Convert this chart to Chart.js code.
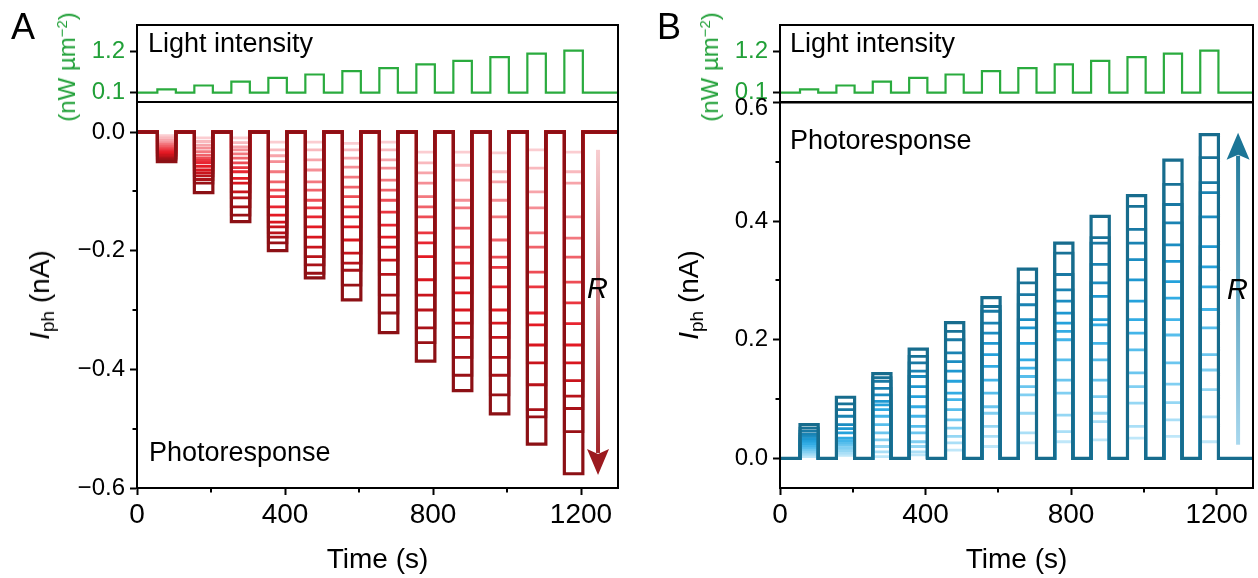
<!DOCTYPE html>
<html><head><meta charset="utf-8">
<script src="https://cdn.jsdelivr.net/npm/chart.js@4.4.1/dist/chart.umd.min.js"></script>
<style>
html,body{margin:0;padding:0;background:#fff;width:1258px;height:578px;overflow:hidden;font-family:"Liberation Sans",Arial,Helvetica,sans-serif;}
canvas{position:absolute;left:0;top:0;}
.t{position:absolute;white-space:nowrap;color:#000;line-height:1;}
.rot{transform:translate(-50%,-50%) rotate(-90deg);}
sub{font-size:0.68em;vertical-align:-0.28em;line-height:0;}
sup{font-size:0.62em;vertical-align:0.55em;line-height:0;}
</style></head><body>
<canvas id="aTop" width="1258" height="578"></canvas>
<canvas id="aBot" width="1258" height="578"></canvas>
<canvas id="bTop" width="1258" height="578"></canvas>
<canvas id="bBot" width="1258" height="578"></canvas>

<div class="t" style="left:11px;top:9px;font-size:36px;">A</div>
<div class="t" style="left:657px;top:9px;font-size:36px;">B</div>
<div class="t" style="left:148px;top:30px;font-size:27px;">Light intensity</div>
<div class="t" style="left:790px;top:30px;font-size:27px;">Light intensity</div>
<div class="t" style="left:149px;top:439px;font-size:27px;">Photoresponse</div>
<div class="t" style="left:790px;top:127px;font-size:27px;">Photoresponse</div>
<div class="t" style="left:587px;top:274px;font-size:29px;font-style:italic;">R</div>
<div class="t" style="left:1227px;top:275px;font-size:29px;font-style:italic;">R</div>
<div class="t rot" style="left:40px;top:295px;font-size:28px;"><i>I</i><sub>ph</sub> (nA)</div>
<div class="t rot" style="left:689px;top:295px;font-size:28px;"><i>I</i><sub>ph</sub> (nA)</div>
<div class="t rot" style="left:67px;top:67px;font-size:24px;color:#21a038;">(nW µm<sup>−2</sup>)</div>
<div class="t rot" style="left:710px;top:67px;font-size:24px;color:#21a038;">(nW µm<sup>−2</sup>)</div>

<script>
// ---------------- data ----------------
const TIME_ON  = [55, 155, 255, 355, 455, 555, 655, 755, 855, 955, 1055, 1155];
const TIME_OFF = [105, 205, 305, 405, 505, 605, 705, 805, 905, 1005, 1105, 1205];
const TIME_START = 0;
const TIME_END = 1300;

const LIGHT_BASE = 0.1;
const LIGHT_LEVELS = [0.19, 0.29, 0.39, 0.49, 0.58, 0.67, 0.75, 0.85, 0.94, 1.04, 1.13, 1.21];

// Panel A photocurrent plateaus (nA), one row per light pulse, lightest -> darkest trace
const A_LEVELS = [
  [-0.006,-0.010,-0.014,-0.018,-0.021,-0.024,-0.027,-0.030,-0.033,-0.035,-0.038,-0.040,-0.043,-0.045,-0.047,-0.050],
  [-0.010,-0.016,-0.022,-0.027,-0.033,-0.039,-0.044,-0.048,-0.052,-0.058,-0.064,-0.069,-0.074,-0.080,-0.086,-0.102],
  [-0.010,-0.018,-0.025,-0.030,-0.037,-0.044,-0.052,-0.060,-0.067,-0.078,-0.086,-0.101,-0.111,-0.126,-0.140,-0.151],
  [-0.017,-0.030,-0.040,-0.050,-0.067,-0.084,-0.098,-0.109,-0.126,-0.140,-0.152,-0.160,-0.170,-0.177,-0.187,-0.200],
  [-0.017,-0.030,-0.047,-0.064,-0.084,-0.098,-0.115,-0.128,-0.143,-0.160,-0.177,-0.194,-0.210,-0.224,-0.238,-0.246],
  [-0.019,-0.030,-0.044,-0.059,-0.076,-0.093,-0.109,-0.126,-0.143,-0.160,-0.182,-0.204,-0.221,-0.233,-0.258,-0.283],
  [-0.017,-0.030,-0.047,-0.061,-0.081,-0.098,-0.115,-0.135,-0.157,-0.177,-0.194,-0.216,-0.240,-0.275,-0.305,-0.338],
  [-0.034,-0.052,-0.069,-0.086,-0.109,-0.126,-0.143,-0.170,-0.187,-0.210,-0.249,-0.275,-0.300,-0.330,-0.355,-0.386],
  [-0.034,-0.056,-0.081,-0.115,-0.128,-0.162,-0.194,-0.221,-0.246,-0.271,-0.300,-0.322,-0.346,-0.380,-0.410,-0.436],
  [-0.035,-0.067,-0.084,-0.115,-0.143,-0.182,-0.211,-0.228,-0.261,-0.300,-0.322,-0.346,-0.380,-0.410,-0.443,-0.475],
  [-0.030,-0.061,-0.101,-0.128,-0.170,-0.194,-0.236,-0.261,-0.305,-0.325,-0.359,-0.389,-0.426,-0.468,-0.480,-0.526],
  [-0.034,-0.067,-0.086,-0.143,-0.179,-0.211,-0.253,-0.288,-0.323,-0.359,-0.389,-0.419,-0.445,-0.466,-0.505,-0.576]
];

// Panel B photocurrent plateaus (nA), one row per light pulse, lightest -> darkest trace
const B_LEVELS = [
  [0.003,0.006,0.009,0.012,0.015,0.018,0.021,0.025,0.029,0.033,0.037,0.041,0.046,0.051,0.057],
  [0.005,0.009,0.013,0.017,0.022,0.026,0.030,0.034,0.043,0.050,0.057,0.071,0.082,0.092,0.103],
  [0.003,0.011,0.020,0.031,0.043,0.057,0.071,0.082,0.090,0.096,0.107,0.118,0.130,0.136,0.143],
  [0.006,0.011,0.020,0.028,0.043,0.054,0.071,0.087,0.104,0.121,0.138,0.147,0.161,0.172,0.184],
  [0.014,0.026,0.037,0.051,0.065,0.082,0.099,0.110,0.130,0.147,0.163,0.178,0.200,0.214,0.229],
  [0.020,0.037,0.054,0.076,0.087,0.110,0.132,0.155,0.175,0.194,0.211,0.228,0.248,0.256,0.271],
  [0.026,0.043,0.076,0.107,0.121,0.138,0.152,0.166,0.194,0.220,0.234,0.259,0.276,0.296,0.319],
  [0.028,0.045,0.073,0.110,0.132,0.166,0.200,0.214,0.228,0.245,0.265,0.284,0.310,0.346,0.363],
  [0.031,0.062,0.076,0.104,0.132,0.166,0.194,0.225,0.234,0.273,0.296,0.327,0.363,0.372,0.408],
  [0.034,0.054,0.093,0.121,0.144,0.183,0.211,0.234,0.265,0.301,0.335,0.363,0.386,0.425,0.443],
  [0.037,0.065,0.094,0.125,0.161,0.208,0.234,0.270,0.298,0.332,0.360,0.397,0.428,0.462,0.503],
  [0.028,0.070,0.116,0.149,0.175,0.220,0.251,0.289,0.323,0.357,0.407,0.448,0.465,0.507,0.546]
];

// ticks
const X_TICKS = [0, 400, 800, 1200];
const X_TICK_LABELS = ['0', '400', '800', '1200'];
const X_MINOR = [200, 600, 1000];
const LIGHT_TICKS = [0.1, 1.2];
const LIGHT_TICK_LABELS = ['0.1', '1.2'];
const A_Y_TICKS = [-0.6, -0.4, -0.2, 0];
const A_Y_TICK_LABELS = ['\u22120.6', '\u22120.4', '\u22120.2', '0.0'];
const A_Y_MINOR = [-0.5, -0.3, -0.1];
const B_Y_TICKS = [0, 0.2, 0.4, 0.6];
const B_Y_TICK_LABELS = ['0.0', '0.2', '0.4', '0.6'];
const B_Y_MINOR = [0.1, 0.3, 0.5];

// ---------------- styles ----------------
const A_COLORS = ['#fbcdd1','#f9b9be','#f7a4aa','#f58e95','#f3787f','#f0626a','#ee4c55','#eb3640','#e82531','#e41a24','#d9161f','#c9141c','#b9131a','#a91218','#991116','#8c1015'];
const B_COLORS = ['#bfe7f9','#aadff7','#95d7f4','#80cff2','#6bc6ef','#57beec','#43b5e9','#32ace4','#25a2dc','#1e98d1','#1b8dc2','#1a83b3','#1979a4','#187297','#176c8d'];
const GREEN = '#2aab3e';
const GREEN_TXT = '#21a038';
const FONT = '"Liberation Sans", Arial, Helvetica, sans-serif';

Chart.defaults.font.family = FONT;
Chart.defaults.color = '#000';

function stepSeries(levels, base) {
  const pts = [{x: TIME_START, y: base}];
  for (let k = 0; k < TIME_ON.length; k++) {
    pts.push({x: TIME_ON[k], y: base}, {x: TIME_ON[k], y: levels[k]},
             {x: TIME_OFF[k], y: levels[k]}, {x: TIME_OFF[k], y: base});
  }
  pts.push({x: TIME_END, y: base});
  return pts;
}

function traceDatasets(table, colors) {
  const n = colors.length, out = [];
  for (let r = n - 1; r >= 0; r--) {   // darkest first => drawn on top
    out.push({
      data: stepSeries(table.map(p => p[r]), 0),
      borderColor: colors[r],
      borderWidth: r === n - 1 ? 3.2 : 2.8,
      pointRadius: 0, tension: 0, fill: false
    });
  }
  return out;
}

// ---------------- plugins ----------------
const framePlugin = {
  id: 'frame',
  afterDraw(chart) {
    const a = chart.chartArea, ctx = chart.ctx;
    ctx.save(); ctx.strokeStyle = '#000'; ctx.lineWidth = 2;
    ctx.strokeRect(a.left, a.top, a.right - a.left, a.bottom - a.top);
    ctx.restore();
  }
};
const minorPlugin = {
  id: 'minor',
  afterDraw(chart, args, o) {
    const ctx = chart.ctx, a = chart.chartArea;
    ctx.save(); ctx.strokeStyle = '#000'; ctx.lineWidth = 2;
    (o.x || []).forEach(v => {
      const p = Math.round(chart.scales.x.getPixelForValue(v));
      ctx.beginPath(); ctx.moveTo(p, a.bottom); ctx.lineTo(p, a.bottom + 4.5); ctx.stroke();
    });
    (o.y || []).forEach(v => {
      const p = Math.round(chart.scales.y.getPixelForValue(v));
      ctx.beginPath(); ctx.moveTo(a.left, p); ctx.lineTo(a.left - 4.5, p); ctx.stroke();
    });
    if (o.extraLabel) {
      const e = o.extraLabel, s = chart.scales.y;
      ctx.fillStyle = '#000'; ctx.font = e.size + 'px ' + FONT;
      ctx.textAlign = 'right'; ctx.textBaseline = 'middle';
      ctx.fillText(e.text, a.left - e.pad, s.getPixelForValue(e.value) + e.dy);
    }
    ctx.restore();
  }
};
const arrowPlugin = {
  id: 'arrow',
  afterDatasetsDraw(chart, args, o) {
    if (!o || o.x === undefined) return;
    const px = chart.scales.x.getPixelForValue(o.x);
    const pTail = chart.scales.y.getPixelForValue(o.tail);
    const pTip = chart.scales.y.getPixelForValue(o.tip);
    const dir = Math.sign(pTip - pTail);
    const hs = pTip - dir * o.headLen;
    const ctx = chart.ctx; ctx.save();
    const g = ctx.createLinearGradient(0, pTail, 0, pTip);
    g.addColorStop(0, o.c0); g.addColorStop(1, o.c1);
    ctx.fillStyle = g;
    ctx.fillRect(px - o.shaft / 2, Math.min(pTail, hs + dir * 4), o.shaft, Math.abs(hs + dir * 4 - pTail));
    ctx.fillStyle = o.c1;
    ctx.beginPath();
    ctx.moveTo(px - o.headW / 2, hs);
    ctx.lineTo(px, hs + dir * 5);
    ctx.lineTo(px + o.headW / 2, hs);
    ctx.lineTo(px, pTip);
    ctx.closePath(); ctx.fill();
    ctx.restore();
  }
};

function makeChart(id, cfg) {
  const xScale = {
    type: 'linear', min: TIME_START, max: TIME_END,
    display: cfg.showX,
    afterBuildTicks: s => { s.ticks = X_TICKS.map(v => ({value: v})); },
    afterFit: s => { s.height = cfg.xHeight || 0; },
    grid: {drawOnChartArea: false, drawTicks: true, tickLength: 7, tickWidth: 2, tickColor: '#000'},
    border: {display: true, color: '#000', width: 2},
    ticks: {color: '#000', font: {family: FONT, size: 28}, padding: 3, maxRotation: 0,
            callback: (v, i) => X_TICK_LABELS[i]},
    title: {display: cfg.showX, text: 'Time (s)', color: '#000', font: {family: FONT, size: 28}, padding: {top: 0, bottom: 1}}
  };
  const yScale = {
    type: 'linear', min: cfg.yMin, max: cfg.yMax,
    afterBuildTicks: s => { s.ticks = cfg.yTicks.map(v => ({value: v})); },
    afterFit: s => { s.width = cfg.yWidth; },
    grid: {drawOnChartArea: false, drawTicks: true, tickLength: 7, tickWidth: 2, tickColor: '#000'},
    border: {display: true, color: '#000', width: 2},
    ticks: {color: cfg.tickColor || '#000', font: {family: FONT, size: 24}, padding: 5,
            callback: (v, i) => cfg.yLabels[i]}
  };
  return new Chart(document.getElementById(id), {
    type: 'line',
    data: {datasets: cfg.datasets},
    options: {
      responsive: false, animation: false, parsing: false, normalized: true,
      layout: {padding: cfg.padding},
      scales: {x: xScale, y: yScale},
      plugins: {legend: {display: false}, tooltip: {enabled: false},
                minor: cfg.minor || {}, arrow: cfg.arrow || {}},
      elements: {line: {borderJoinStyle: 'miter', borderCapStyle: 'butt'}}
    },
    plugins: [framePlugin, minorPlugin, arrowPlugin]
  });
}

const lightDataset = () => [{
  data: stepSeries(LIGHT_LEVELS, LIGHT_BASE),
  borderColor: GREEN, borderWidth: 2.2, pointRadius: 0, tension: 0, fill: false
}];

// Panel A, light intensity
makeChart('aTop', {
  showX: false, yMin: -0.145, yMax: 1.886, yTicks: LIGHT_TICKS, yLabels: LIGHT_TICK_LABELS,
  tickColor: GREEN_TXT, yWidth: 137, padding: {left: 0, top: 25, right: 640, bottom: 476},
  datasets: lightDataset()
});
// Panel A, photoresponse
makeChart('aBot', {
  showX: true, xHeight: 90, yMin: -0.6, yMax: 0.0506, yTicks: A_Y_TICKS, yLabels: A_Y_TICK_LABELS,
  yWidth: 137, padding: {left: 0, top: 102, right: 640, bottom: 0},
  datasets: traceDatasets(A_LEVELS, A_COLORS),
  minor: {x: X_MINOR, y: A_Y_MINOR},
  arrow: {x: 1246, tail: -0.030, tip: -0.578, c0: '#f8cdd0', c1: '#9c1a1f', shaft: 4, headW: 22, headLen: 26}
});
// Panel B, light intensity
makeChart('bTop', {
  showX: false, yMin: -0.145, yMax: 1.886, yTicks: LIGHT_TICKS, yLabels: LIGHT_TICK_LABELS,
  tickColor: GREEN_TXT, yWidth: 780, padding: {left: 0, top: 25, right: 5, bottom: 476},
  datasets: lightDataset()
});
// Panel B, photoresponse
makeChart('bBot', {
  showX: true, xHeight: 90, yMin: -0.05, yMax: 0.6, yTicks: B_Y_TICKS,
  yLabels: ['0.0', '0.2', '0.4', ''], yWidth: 780, padding: {left: 0, top: 102.5, right: 5, bottom: 0},
  datasets: traceDatasets(B_LEVELS, B_COLORS),
  minor: {x: X_MINOR, y: B_Y_MINOR, extraLabel: {text: B_Y_TICK_LABELS[3], value: 0.6, size: 24, pad: 12, dy: 6}},
  arrow: {x: 1259, tail: 0.023, tip: 0.549, c0: '#a9d8ee', c1: '#1b7596', shaft: 4, headW: 23, headLen: 27}
});
</script>
</body></html>
